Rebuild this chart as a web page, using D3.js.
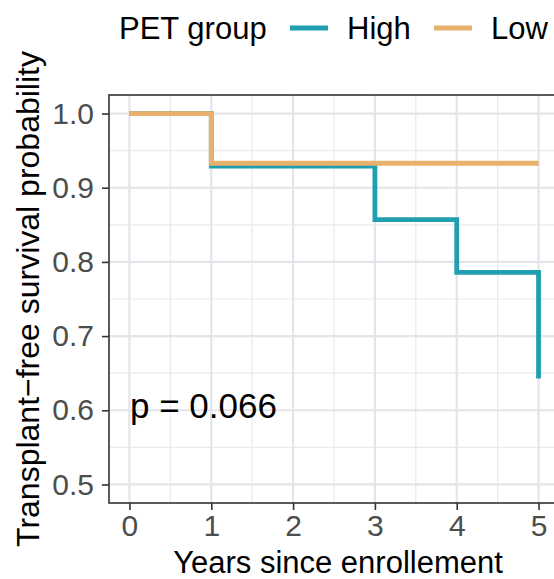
<!DOCTYPE html>
<html>
<head>
<meta charset="utf-8">
<script src="https://cdn.jsdelivr.net/npm/d3@7"></script>
<style>
  body { margin: 0; background: #fff; }
  text { font-family: "Liberation Sans", Arial, sans-serif; }
</style>
</head>
<body>
<div id="km-view"></div>
<script>
// survival curves
const groups = ["High", "Low"];
const highTimes = [0, 1, 3, 4, 5];
const highSurv = [1, 0.929, 0.857, 0.786, 0.643];
const lowTimes = [0, 1, 5];
const lowSurv = [1, 0.933, 0.933];
const xTicks = [0, 1, 2, 3, 4, 5];
const yTicks = [0.5, 0.6, 0.7, 0.8, 0.9, 1.0];
const pLabel = "p = 0.066";

const colors = {High: "#1f9fb0", Low: "#e8b26c"};

const drawChart = function () {
    const width = 554;
    const height = 579;
    const panel = {left: 109, right: 559, top: 95, bottom: 503};

    const x = d3.scaleLinear().domain([-0.25, 5.25]).range([panel.left, panel.right]);
    const y = d3.scaleLinear().domain([0.475, 1.025]).range([panel.bottom, panel.top]);

    const svg = d3.select('#km-view').append('svg')
        .attr('width', width)
        .attr('height', height);

    const plot = svg.append('g');

    plot.append('rect')
        .attr('x', panel.left).attr('y', panel.top)
        .attr('width', panel.right - panel.left)
        .attr('height', panel.bottom - panel.top)
        .attr('fill', '#fff');

    // minor grid
    const xMinor = d3.range(-0.5, 5.6, 1).filter(v => v > -0.25);
    const yMinor = d3.range(0.45, 1.06, 0.1).filter(v => v > 0.475 && v < 1.025);
    plot.selectAll('.xminor').data(xMinor).join('line')
        .attr('x1', d => x(d)).attr('x2', d => x(d))
        .attr('y1', panel.top).attr('y2', panel.bottom)
        .attr('stroke', '#eaeaee').attr('stroke-width', 1.2);
    plot.selectAll('.yminor').data(yMinor).join('line')
        .attr('y1', d => y(d)).attr('y2', d => y(d))
        .attr('x1', panel.left).attr('x2', panel.right)
        .attr('stroke', '#eaeaee').attr('stroke-width', 1.2);

    // major grid
    plot.selectAll('.xmajor').data(xTicks).join('line')
        .attr('x1', d => x(d)).attr('x2', d => x(d))
        .attr('y1', panel.top).attr('y2', panel.bottom)
        .attr('stroke', '#e4e4ea').attr('stroke-width', 2.2);
    plot.selectAll('.ymajor').data(yTicks).join('line')
        .attr('y1', d => y(d)).attr('y2', d => y(d))
        .attr('x1', panel.left).attr('x2', panel.right)
        .attr('stroke', '#e4e4ea').attr('stroke-width', 2.2);

    // curves
    const line = d3.line()
        .curve(d3.curveStepAfter)
        .x(d => x(d[0]))
        .y(d => y(d[1]));

    const series = {
        High: d3.zip(highTimes, highSurv),
        Low: d3.zip(lowTimes, lowSurv)
    };

    groups.forEach(g => {
        plot.append('path')
            .datum(series[g])
            .attr('d', line)
            .attr('fill', 'none')
            .attr('stroke', colors[g])
            .attr('stroke-width', 4.8);
    });

    // panel border
    plot.append('rect')
        .attr('x', panel.left).attr('y', panel.top)
        .attr('width', panel.right - panel.left)
        .attr('height', panel.bottom - panel.top)
        .attr('fill', 'none')
        .attr('stroke', '#333').attr('stroke-width', 1.6);

    // axes
    const xAxis = d3.axisBottom(x).tickValues(xTicks).tickSize(7).tickPadding(5)
        .tickFormat(d3.format('d'));
    const gx = svg.append('g').attr('transform', `translate(0,${panel.bottom})`).call(xAxis);
    gx.select('.domain').remove();
    gx.selectAll('line').attr('stroke', '#333').attr('stroke-width', 1.6);
    gx.selectAll('text').attr('fill', '#4d4d4d')
        .style('font-size', '30px').style('font-family', '"Liberation Sans", Arial, sans-serif');

    const yAxis = d3.axisLeft(y).tickValues(yTicks).tickSize(7).tickPadding(8)
        .tickFormat(d3.format('.1f'));
    const gy = svg.append('g').attr('transform', `translate(${panel.left},0)`).call(yAxis);
    gy.select('.domain').remove();
    gy.selectAll('line').attr('stroke', '#333').attr('stroke-width', 1.6);
    gy.selectAll('text').attr('fill', '#4d4d4d')
        .style('font-size', '30px').style('font-family', '"Liberation Sans", Arial, sans-serif');

    // axis titles
    svg.append('text')
        .attr('x', x(2.5) + 4).attr('y', 573)
        .attr('text-anchor', 'middle')
        .style('font-size', '31px')
        .text('Years since enrollement');

    svg.append('text')
        .attr('transform', `translate(39,${(55 + 543) / 2}) rotate(-90)`)
        .attr('text-anchor', 'middle')
        .style('font-size', '32px')
        .text('Transplant\u2212free survival probability');

    // p-value
    svg.append('text')
        .attr('x', 130).attr('y', 418)
        .style('font-size', '35px')
        .text(pLabel);

    // legend
    const legend = svg.append('g');
    legend.append('text')
        .attr('x', 119).attr('y', 39)
        .style('font-size', '31px')
        .text('PET group');
    const keyX = {High: 290, Low: 434};
    groups.forEach(g => {
        legend.append('line')
            .attr('x1', keyX[g]).attr('x2', keyX[g] + 38)
            .attr('y1', 28).attr('y2', 28)
            .attr('stroke', colors[g]).attr('stroke-width', 4.8);
        legend.append('text')
            .attr('x', keyX[g] + 57).attr('y', 39)
            .style('font-size', '31px')
            .text(g);
    });
};

drawChart();
</script>
</body>
</html>
